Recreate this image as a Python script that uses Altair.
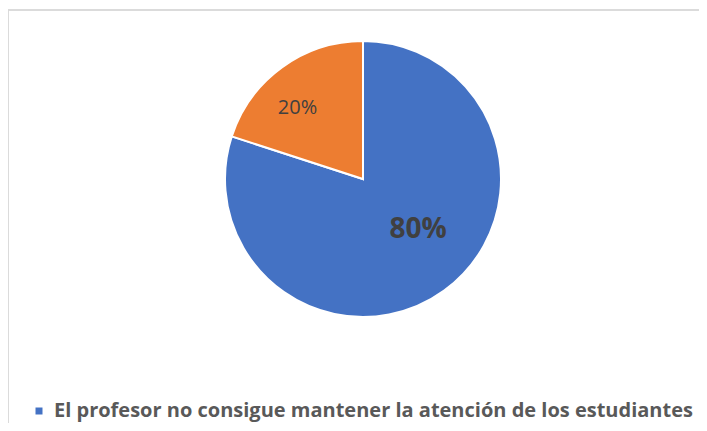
import altair as alt
import pandas as pd

categorias = ["El profesor no consigue mantener la atención de los estudiantes", "Otro"]
valores = [80, 20]
etiquetas = ["80%", "20%"]
orden = [1, 2]
colores = ["#4472C4", "#ED7D31"]

df = pd.DataFrame({"categoria": categorias, "valor": valores, "etiqueta": etiquetas, "orden": orden})

CX, CY, R = 355, 171, 138

color = alt.Color(
    "categoria:N",
    scale=alt.Scale(domain=categorias, range=colores),
    legend=alt.Legend(
        values=[categorias[0]], title=None, orient="none", legendX=21, legendY=393,
        symbolType="square", symbolSize=49, symbolStrokeWidth=0,
        labelFont="Open Sans", labelFontSize=20, labelFontWeight="bold", labelColor="#595959",
        labelLimit=1000, symbolOffset=0, labelOffset=5, padding=0,
    ),
)

base = alt.Chart(df).encode(
    theta=alt.Theta("valor:Q", stack=True),
    order=alt.Order("orden:Q"),
)

arc = base.mark_arc(radius=R, stroke="white", strokeWidth=2).encode(
    color=color, x=alt.value(CX), y=alt.value(CY)
)

t80 = base.transform_calculate(
    lab="datum.orden == 1 ? datum.etiqueta : ''"
).mark_text(radius=75, font="Open Sans", fontSize=28, fontWeight="bold", color="#404040", dx=11, dy=-10).encode(
    text="lab:N", x=alt.value(CX), y=alt.value(CY)
)

t20 = base.transform_calculate(
    lab="datum.orden == 2 ? datum.etiqueta : ''"
).mark_text(radius=96, font="Open Sans", fontSize=20, color="#404040", dx=-9, dy=7).encode(
    text="lab:N", x=alt.value(CX), y=alt.value(CY)
)

marco_top = alt.Chart(df).mark_rule(color="#D9D9D9", strokeWidth=1.5).encode(
    x=alt.value(0), x2=alt.value(691), y=alt.value(2)
)
marco_left = alt.Chart(df).mark_rule(color="#D9D9D9", strokeWidth=1.5).encode(
    x=alt.value(0), y=alt.value(2), y2=alt.value(415)
)

chart = alt.layer(marco_top, marco_left, arc, t80, t20).properties(
    width=691, height=415, padding=0, autosize=alt.AutoSizeParams(type="none")
).configure_view(stroke=None)

chart.save("out.html", embed_options={"renderer": "svg", "actions": False})
